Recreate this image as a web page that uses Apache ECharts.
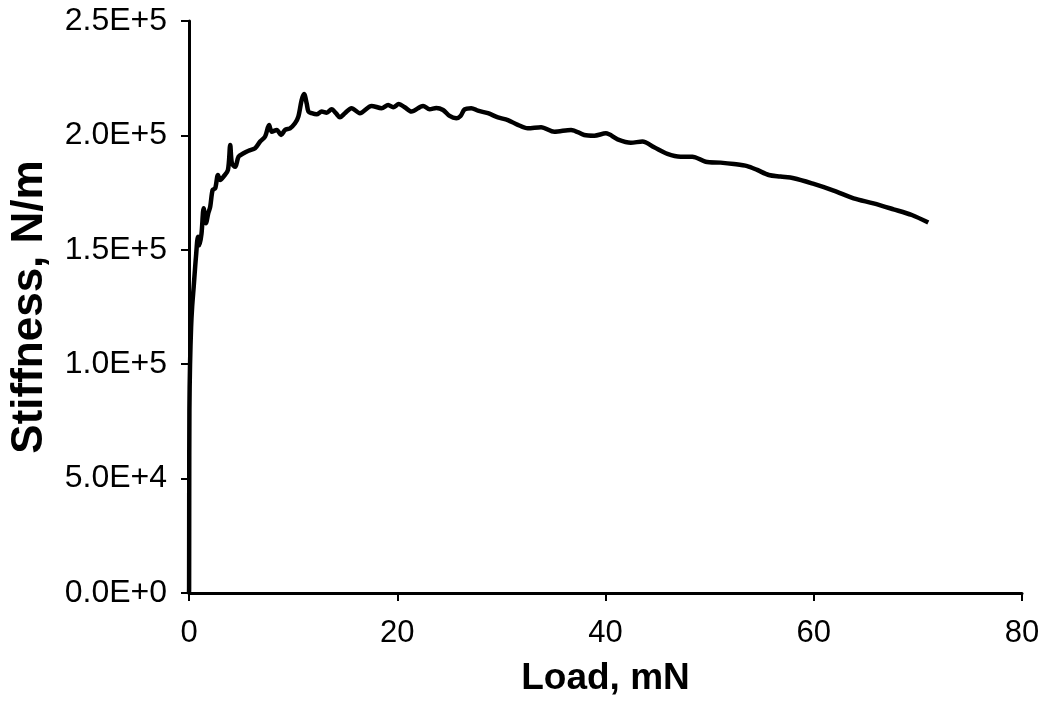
<!DOCTYPE html>
<html>
<head>
<meta charset="utf-8">
<script src="https://cdn.jsdelivr.net/npm/echarts@6/dist/echarts.min.js"></script>
<style>html,body{margin:0;padding:0;background:#fff;}#c{width:1052px;height:704px;}</style>
</head>
<body>
<div id="c"></div>
<script>
// Load (mN)
var loadMN = [0, 0.01, 0.02, 0.04, 0.1, 0.2, 0.3, 0.45, 0.55, 0.67, 0.86, 1.0, 1.2, 1.41, 1.63, 1.85, 2.04, 2.27, 2.52, 2.78, 3.0, 3.32, 3.74, 3.96, 4.12, 4.44, 4.76, 5.24, 5.72, 6.35, 6.83, 7.31, 7.69, 7.95, 8.43, 8.84, 9.23, 9.7, 10.18, 10.5, 10.82, 11.05, 11.3, 11.47, 11.78, 12.26, 12.74, 13.22, 13.7, 14.11, 14.49, 14.97, 15.61, 16.41, 17.53, 18.49, 19.13, 19.61, 20.15, 20.72, 21.36, 22.48, 23.11, 23.75, 24.4, 25.03, 25.67, 26.08, 26.47, 27.11, 27.75, 28.71, 29.67, 30.62, 31.58, 32.54, 33.81, 35.09, 36.69, 37.96, 38.92, 40.04, 41.16, 42.43, 43.55, 44.67, 45.95, 47.22, 48.34, 49.62, 51.05, 52.33, 53.61, 54.57, 55.68, 56.8, 58.08, 60.0, 61.91, 63.83, 65.74, 67.66, 69.42, 71.0];
// Stiffness (N/m)
var stiffness = [0, 2000, 40000, 80000, 100000, 116000, 125000, 133800, 140000, 147000, 155700, 152000, 157000, 168200, 161600, 166000, 168900, 176200, 176900, 182700, 180500, 182000, 184900, 195800, 187800, 186300, 190700, 192200, 193300, 194400, 197300, 199500, 204500, 201600, 202400, 200200, 202400, 203100, 205300, 208200, 215500, 218100, 214000, 210400, 209700, 209200, 210400, 209900, 211400, 209700, 207900, 209700, 211900, 209700, 212900, 211900, 213300, 212300, 213700, 212300, 210400, 212900, 211400, 212000, 211100, 208500, 207500, 208500, 211400, 211900, 210800, 209700, 207900, 206700, 204600, 203100, 203600, 201600, 202400, 200200, 199900, 200900, 198300, 196800, 197300, 194800, 191900, 190700, 190700, 188500, 188100, 187500, 186600, 184900, 182700, 182000, 181300, 178800, 175900, 172500, 170300, 167700, 165200, 161900];
var xTicks = [0, 20, 40, 60, 80];
var yTickLabels = ['0.0E+0', '5.0E+4', '1.0E+5', '1.5E+5', '2.0E+5', '2.5E+5'];

var pts = loadMN.map(function (x, i) { return [x, stiffness[i]]; });
var chart = echarts.init(document.getElementById('c'), null, {renderer: 'canvas'});
var font = 'Liberation Sans, Arial, sans-serif';
chart.setOption({
  animation: false,
  backgroundColor: '#ffffff',
  grid: {left: 187, right: 30, top: 21, bottom: 111, containLabel: false},
  xAxis: {
    type: 'value', min: 0, max: 80, interval: 20,
    name: 'Load, mN', nameLocation: 'middle', nameGap: 67,
    nameTextStyle: {fontFamily: font, fontWeight: 'bold', fontSize: 37, color: '#000'},
    axisLine: {show: true, onZero: false, lineStyle: {color: '#000', width: 3}},
    axisTick: {show: true, inside: false, length: 8, lineStyle: {color: '#000', width: 2}},
    axisLabel: {margin: 25, fontFamily: font, fontSize: 31, color: '#000',
      formatter: function (v) { return String(v); }},
    splitLine: {show: false}
  },
  yAxis: {
    type: 'value', min: 0, max: 250000, interval: 50000,
    name: 'Stiffness, N/m', nameLocation: 'middle', nameGap: 137,
    nameTextStyle: {fontFamily: font, fontWeight: 'bold', fontSize: 44, color: '#000'},
    axisLine: {show: true, onZero: false, lineStyle: {color: '#000', width: 3}},
    axisTick: {show: true, inside: false, length: 8, lineStyle: {color: '#000', width: 2}},
    axisLabel: {margin: 22, fontFamily: font, fontSize: 32, color: '#000',
      formatter: function (v) { return yTickLabels[Math.round(v / 50000)]; }},
    splitLine: {show: false}
  },
  series: [{
    type: 'line', data: pts, showSymbol: false, smooth: 0.3,
    lineStyle: {color: '#000', width: 4.5}
  }]
});
</script>
</body>
</html>
